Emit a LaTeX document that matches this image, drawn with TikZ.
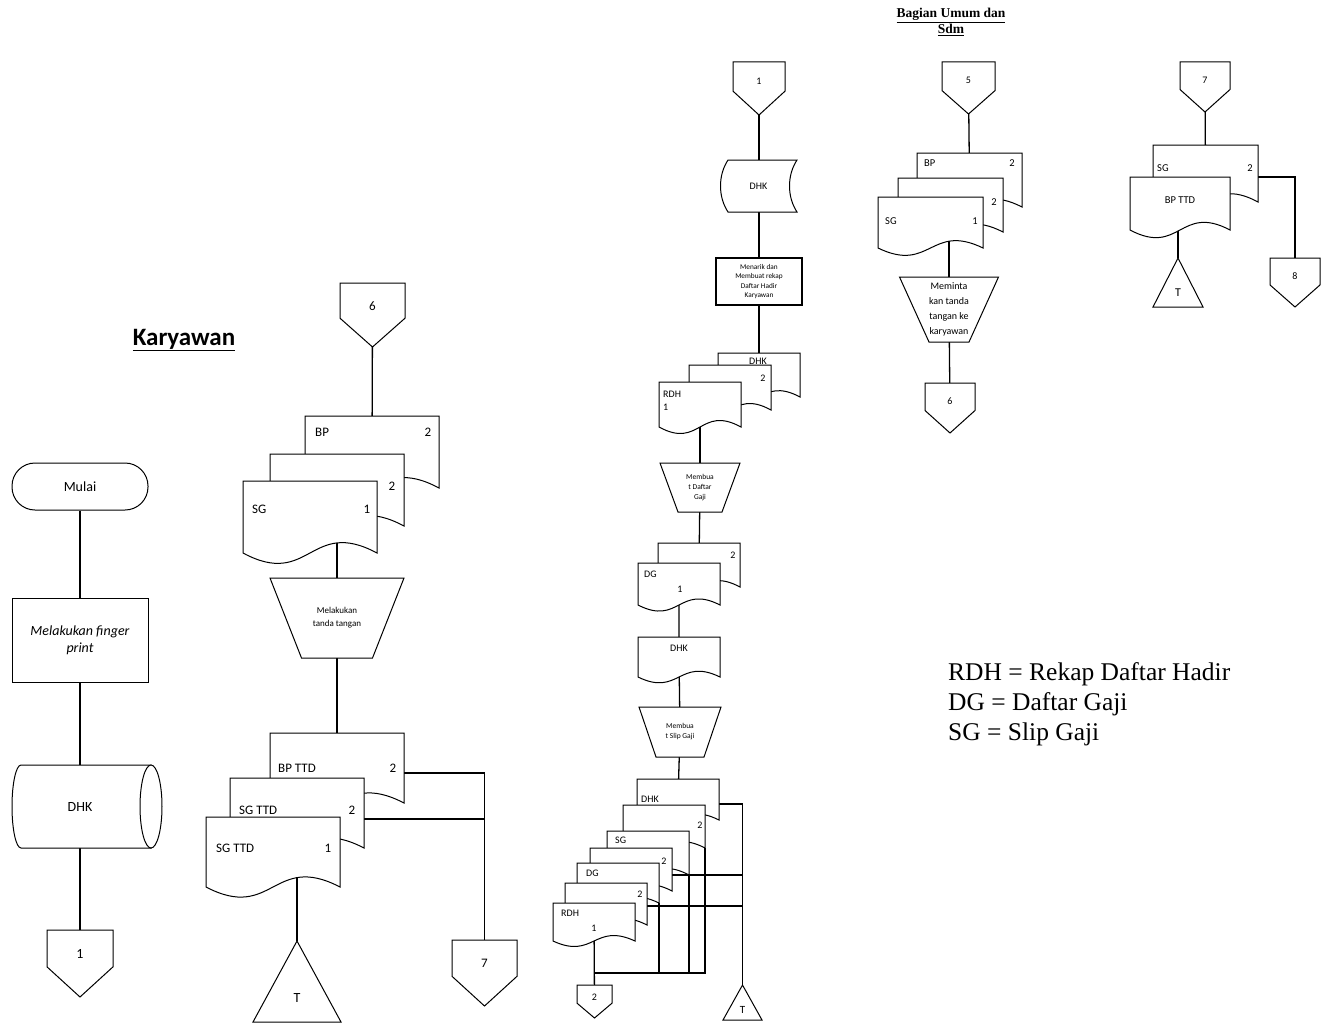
\documentclass[tikz,border=0pt]{standalone}
\usepackage{fontspec}
\setmainfont{Carlito}
\newfontfamily\tnrfam{Liberation Serif}
\usetikzlibrary{calc}
\pgfdeclarelayer{bg}
\pgfsetlayers{bg,main}
\tikzset{
  shp/.style={draw=black, line width=1pt, fill=white},
  conn/.style={draw=black, line width=1.3pt},
  ghost/.style={inner sep=0pt, outer sep=0pt, draw=none, fill=none},
  lab/.style={inner sep=0pt, font=\fontsize{#1}{#1}\selectfont},
}
\newcommand\docu[6][0.5]{%
  \node[ghost, minimum width=#5pt, minimum height=#6pt, anchor=north west] (#2) at (#3,#4) {};
  \draw[shp] (#2.south west) -- (#2.north west) -- (#2.north east) -- (#2.south east)
    .. controls +(-0.5*#5,-#1*#6) and +(0.5*#5,#1*#6) .. (#2.south west) -- cycle;
}
\newcommand\offpg[7]{%
  \node[ghost, minimum width=#4pt, minimum height=#5pt, anchor=north] (#1) at (#2,#3) {};
  \draw[shp] (#1.north west) -- (#1.north east) -- ($(#1.north east)!0.55!(#1.south east)$) -- (#1.south) -- ($(#1.north west)!0.55!(#1.south west)$) -- cycle;
  \node[lab=#6] (#1-t) at ($(#1.north)!0.36!(#1.south)$) {#7};
}
\newcommand\trimerge[6]{%
  \node[ghost, minimum width=#4pt, minimum height=#5pt, anchor=north] (#1) at (#2,#3) {};
  \draw[shp] (#1.north) -- (#1.south east) -- (#1.south west) -- cycle;
  \node[lab=#6] (#1-t) at ($(#1.north)!0.7!(#1.south)$) {T};
}
\newcommand\manop[8]{%
  \node[ghost, minimum width=#4pt, minimum height=#6pt, anchor=north] (#1) at (#2,#3) {};
  \draw[shp] (#1.north west) -- (#1.north east) -- ($(#1.south)+(#5/2,0)$) -- ($(#1.south)+(-#5/2,0)$) -- cycle;
  \node[inner sep=0pt, align=center, font=#7] (#1-t) at (#1.center) {#8};
}
\begin{document}
\begin{tikzpicture}[x=1pt,y=-1pt]
\useasboundingbox (0,0) rectangle (1324,1025);

% ---------------- Karyawan column 1
\node[inner sep=0pt, font=\bfseries\fontsize{25}{25}\selectfont] (kary) at (184,340) {\underline{Karyawan}};
\node[shp, rounded corners=23pt, minimum width=136pt, minimum height=47pt, font=\fontsize{14}{14}\selectfont] (mulai) at (80,486.5) {Mulai};
\node[shp, minimum width=136pt, minimum height=84pt, align=center, font=\itshape\fontsize{14}{17}\selectfont] (p1) at (80,640) {Melakukan finger\\print};
\node[ghost, minimum width=150pt, minimum height=83pt] (cyl) at (87,806.5) {};
\draw[shp] (21,765) -- (151,765) -- (151,848) -- (21,848)
  .. controls +(-4.97,0) and +(0,22.9) .. (12,806.5)
  .. controls +(0,-22.9) and +(-4.97,0) .. (21,765) -- cycle;
\draw[shp] (151,806.5) ellipse [x radius=11pt, y radius=41.5pt];
\node[lab=14] (cyl-t) at (80,806.5) {DHK};
\offpg{c1}{80}{930}{66}{67}{14}{1}

% ---------------- column 2
\offpg{c6}{372.5}{283}{65}{64}{13}{6}
\docu{bp}{305}{416}{134}{72}
\node[lab=13, anchor=west] (bp-l) at (315,432) {BP};
\node[lab=13] (bp-n) at (428,432) {2};
\docu{sgm}{270}{454}{134}{72}
\node[lab=13] (sgm-n) at (392,486) {2};
\docu{sgf}{243}{481}{134}{72}
\node[lab=13, anchor=west] (sgf-l) at (252,509) {SG};
\node[lab=13] (sgf-n) at (367,509) {1};
\manop{m1}{337}{578}{134}{71}{80}{\fontsize{9}{13}\selectfont}{Melakukan\\tanda tangan}
\docu{bpt}{270}{733}{134}{70}
\node[lab=13, anchor=west] (bpt-l) at (278,768) {BP TTD};
\node[lab=13] (bpt-n) at (393,768) {2};
\docu{sgt2}{230}{778}{134}{70}
\node[lab=13, anchor=west] (sgt2-l) at (239,810) {SG TTD};
\node[lab=13] (sgt2-n) at (352,810) {2};
\docu{sgt1}{206}{817}{134}{70}
\node[lab=13, anchor=west] (sgt1-l) at (216,848) {SG TTD};
\node[lab=13] (sgt1-n) at (328,848) {1};
\trimerge{t1}{297}{941}{88}{81}{14}
\offpg{c7}{484.5}{940}{65}{66}{13}{7}

% ---------------- column 3
\offpg{c1b}{759}{62}{52}{53}{10}{1}
\node[ghost, minimum width=77pt, minimum height=52pt] (sd) at (758.5,186) {};
\draw[shp] (728,160) -- (797,160) .. controls +(-10,15) and +(-10,-15) .. (797,212)
  -- (728,212) .. controls +(-10,-15) and +(-10,15) .. (728,160) -- cycle;
\node[lab=10] (sd-t) at (758.5,186) {DHK};
\node[shp, line width=1.6pt, minimum width=86pt, minimum height=47pt, inner sep=1pt, align=center, font=\fontsize{7.3}{9.3}\selectfont] (p2) at (759,281.5) {Menarik dan\\Membuat rekap\\Daftar Hadir\\Karyawan};
\docu{d3a}{718}{353}{82}{44}
\node[lab=10] (d3a-l) at (758,361) {DHK};
\docu{d3b}{689}{365}{82}{45}
\node[lab=10] (d3b-n) at (763,378) {2};
\docu{d3c}{659}{382}{82}{45}
\node[lab=10, anchor=west] (d3c-l) at (663,394) {RDH};
\node[lab=10, anchor=west] (d3c-n) at (663,407) {1};
\manop{m2}{700}{463}{80}{44}{49}{\fontsize{7.5}{10}\selectfont}{Membua\\t Daftar\\Gaji}
\docu{d4a}{658}{543}{82}{44}
\node[lab=10] (d4a-n) at (733,555) {2};
\docu{d4b}{638}{563}{82}{42}
\node[lab=10, anchor=west] (d4b-l) at (644,574) {DG};
\node[lab=10] (d4b-n) at (680,589) {1};
\docu{d5}{638}{637}{82}{40}
\node[lab=10] (d5-l) at (679,648) {DHK};
\manop{m3}{680}{707}{82}{48}{50}{\fontsize{7.5}{10}\selectfont}{Membua\\t Slip Gaji}
\docu{b1}{637}{779}{82}{41}
\node[lab=10, anchor=west] (b1-l) at (641,799) {DHK};
\docu{b2}{623}{805}{82}{43}
\node[lab=10] (b2-n) at (700,825) {2};
\docu{b3}{607}{831}{82}{44}
\node[lab=10, anchor=west] (b3-l) at (615,840) {SG};
\docu{b4}{590}{848}{82}{43}
\node[lab=10] (b4-n) at (664,861) {2};
\docu{b5}{577}{863}{82}{40}
\node[lab=10, anchor=west] (b5-l) at (586,873) {DG};
\docu{b6}{565}{883}{82}{42}
\node[lab=10] (b6-n) at (640,894) {2};
\docu{b7}{553}{903}{82}{38}
\node[lab=10, anchor=west] (b7-l) at (561,913) {RDH};
\node[lab=10] (b7-n) at (594,928) {1};
\offpg{c2}{594.5}{985}{35}{33}{10}{2}
\trimerge{tb}{742.5}{985}{39}{35}{11}
\coordinate (jn) at (594,973);

% ---------------- column 4
\node[inner sep=0pt, align=center, font={\tnrfam\bfseries\fontsize{13.5}{16}\selectfont}] (bag) at (951,22) {\underline{Bagian Umum dan}\\\underline{Sdm}};
\offpg{c5}{968.5}{62}{53}{52}{10}{5}
\docu{e1}{917}{153}{105}{54}
\node[lab=10.5, anchor=west] (e1-l) at (924,163) {BP};
\node[lab=10.5] (e1-n) at (1012,163) {2};
\docu{e2}{898}{178}{105}{54}
\node[lab=10.5] (e2-n) at (994,202) {2};
\docu{e3}{878}{197}{105}{51}
\node[lab=10.5, anchor=west] (e3-l) at (885,221) {SG};
\node[lab=10.5] (e3-n) at (975,221) {1};
\manop{m4}{949}{277}{99}{40}{65}{\fontsize{10}{15}\selectfont}{Meminta\\kan tanda\\tangan ke\\karyawan}
\offpg{c6b}{950}{383}{50}{50}{10}{6}

% ---------------- column 5
\offpg{c7b}{1205}{62}{50}{50}{10}{7}
\docu{f1}{1153}{145}{105}{57}
\node[lab=10.5, anchor=west] (f1-l) at (1157,168) {SG};
\node[lab=10.5] (f1-n) at (1250,168) {2};
\docu{f2}{1130}{177}{100}{53}
\node[lab=10.5] (f2-l) at (1180,200) {BP TTD};
\trimerge{tc}{1178}{258}{50}{49}{12}
\offpg{c8}{1295}{258}{50}{49}{10}{8}

% ---------------- legend
\node[inner sep=0pt, anchor=west, align=left, font={\tnrfam\fontsize{25.5}{30}\selectfont}] (leg) at (948,704) {RDH = Rekap Daftar Hadir\\DG = Daftar Gaji\\SG = Slip Gaji};

% ---------------- connectors (behind shapes)
\begin{pgfonlayer}{bg}
\fill[white] (0,0) rectangle (1324,1025);
\draw[conn] (mulai) -- (p1) -- (c1);
\draw[conn] (c6) -- (bp);
\draw[conn] (m1) -- (m1 |- sgf);
\draw[conn] (m1) -- (bpt);
\draw[conn] (t1) -- (t1 |- sgt1);
\draw[conn] ($(bpt.north east)+(0,40)$) -| (c7);
\draw[conn] ($(sgt2.north east)+(0,41)$) coordinate (h2) -- (h2 -| c7);
\draw[conn] (c1b) -- (d3a);
\draw[conn] (d3c) -- (m2);
\draw[conn] (m2) -- (d4a);
\draw[conn] (d4b) -- (d5) -- (m3) -- (b1);
\draw[conn] (b7) -- (c2);
\draw[conn] (b2.south east) |- (jn);
\draw[conn] (b3.south east) -- (b3.south east |- jn);
\draw[conn] (b5.south east) -- (b5.south east |- jn);
\draw[conn] ($(b1.north east)+(0,25)$) -| (tb.north);
\draw[conn] ($(b4.north east)+(0,27)$) coordinate (h4) -- (h4 -| tb.north);
\draw[conn] ($(b6.north east)+(0,23)$) coordinate (h6) -- (h6 -| tb.north);
\draw[conn] (c5) -- (e1);
\draw[conn] (m4) -- (m4 |- e3);
\draw[conn] (m4) -- (c6b);
\draw[conn] (c7b) -- (f1);
\draw[conn] (tc) -- (tc |- f2);
\draw[conn] ($(f1.north east)+(0,32)$) -| (c8);
\end{pgfonlayer}
\end{tikzpicture}
\end{document}
